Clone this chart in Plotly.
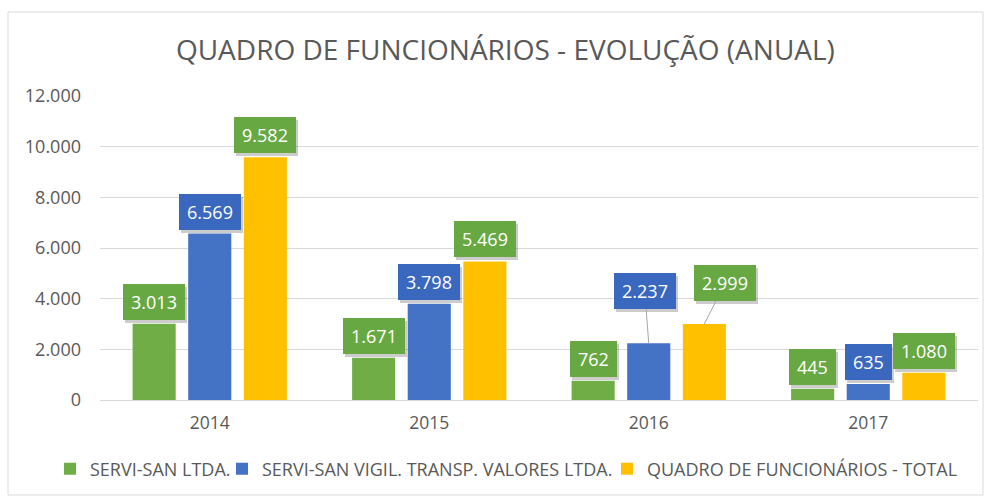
import plotly.graph_objects as go

# ---- data ----
years = ["2014", "2015", "2016", "2017"]
servi_san = [3013, 1671, 762, 445]
servi_vigil = [6569, 3798, 2237, 635]
total = [9582, 5469, 2999, 1080]
series_names = ["SERVI-SAN LTDA.", "SERVI-SAN VIGIL. TRANSP. VALORES LTDA.",
                "QUADRO DE FUNCIONÁRIOS - TOTAL"]
y_ticks = [0, 2000, 4000, 6000, 8000, 10000, 12000]
y_tick_labels = ["0", "2.000", "4.000", "6.000", "8.000", "10.000", "12.000"]

# ---- style ----
bar_colors = ["#70AD47", "#4472C4", "#FFC000"]
label_bg = ["#67A843", "#3B68BF", "#67A843"]
FONT = "Open Sans"
GREY = "#595959"
LABEL_FS = 18
BAR_SLOT = 0.253   # category fraction per bar slot
PLOT_L, PLOT_W, PLOT_B, PLOT_H = 100, 878, 400, 304
# label pixel offsets (dx, dy above bar top) per series per year; leader lines where moved
label_offsets = [
    [(0, 22), (0, 22), (0, 22), (0, 22)],
    [(0, 22), (0, 22), (-4, 52), (0, 22)],
    [(0, 22), (0, 22), (21, 41), (0, 22)],
]
leader = [[False] * 4, [False, False, True, False], [False, False, True, False]]
legend_text_x = [90, 262, 647]   # pixel x where each legend text starts
legend_keys = ["legend2", "legend3", "legend4"]

series = [servi_san, servi_vigil, total]
xpos = list(range(len(years)))

fig = go.Figure()
for s, vals in enumerate(series):
    fig.add_trace(go.Bar(
        x=xpos, y=vals, name=series_names[s], legend=legend_keys[s],
        marker=dict(color=bar_colors[s], line=dict(width=0)),
        hoverinfo="skip",
    ))

def fmt(v):
    return f"{v:,}".replace(",", ".")

def text_w(t):
    return sum(0.266 if c == "." else 0.572 for c in t) * LABEL_FS

shadows, labels = [], []
for s, vals in enumerate(series):
    for i, v in enumerate(vals):
        dx, dy = label_offsets[s][i]
        t = fmt(v)
        base = dict(
            x=i + (s - 1) * BAR_SLOT, y=v, xref="x", yref="y",
            text=t, showarrow=True, ax=dx, ay=-dy, width=text_w(t) + 4,
            arrowhead=0, arrowwidth=1, borderpad=6, borderwidth=0,
            font=dict(family=FONT, size=LABEL_FS, color="white"),
            xanchor="center", yanchor="middle", align="center",
        )
        sh = dict(base)
        sh.update(bgcolor="rgba(0,0,0,0.2)",
                  font=dict(family=FONT, size=LABEL_FS, color="rgba(0,0,0,0)"),
                  arrowcolor="rgba(0,0,0,0)", xshift=2, yshift=-3)
        shadows.append(sh)
        lb = dict(base)
        lb.update(bgcolor=label_bg[s],
                  arrowcolor="#A6A6A6" if leader[s][i] else "rgba(0,0,0,0)")
        labels.append(lb)

legends = {}
for s, key in enumerate(legend_keys):
    legends[key] = dict(
        orientation="h", xref="paper", yref="paper",
        x=(legend_text_x[s] - 40 - PLOT_L) / PLOT_W, xanchor="left",
        y=-(469 - PLOT_B) / PLOT_H, yanchor="middle",
        font=dict(family=FONT, size=18, color=GREY), itemwidth=30,
        bgcolor="rgba(0,0,0,0)",
    )

fig.update_layout(
    width=991, height=497,
    paper_bgcolor="white", plot_bgcolor="white",
    margin=dict(l=100, r=13, t=96, b=97, autoexpand=False),
    barmode="group", bargap=0.24, bargroupgap=0.225,
    title=dict(text="QUADRO DE FUNCIONÁRIOS - EVOLUÇÃO (ANUAL)",
               font=dict(family=FONT, size=28, color=GREY),
               x=0.51, xanchor="center", y=0.9, yanchor="middle"),
    xaxis=dict(tickmode="array", tickvals=xpos, ticktext=years,
               range=[-0.5, len(years) - 0.5], showgrid=False, zeroline=False,
               showline=False, ticks="", ticklabelstandoff=10,
               tickfont=dict(family=FONT, size=17.5, color=GREY)),
    yaxis=dict(tickmode="array", tickvals=y_ticks, ticktext=y_tick_labels,
               range=[0, 12000], showgrid=True, gridcolor="#D9D9D9", gridwidth=1,
               zeroline=True, zerolinecolor="#D9D9D9", zerolinewidth=1,
               showline=False, ticks="", ticklabelstandoff=18,
               tickfont=dict(family=FONT, size=18, color=GREY)),
    annotations=shadows + labels,
    shapes=[dict(type="rect", xref="paper", yref="paper",
                 x0=(8 - PLOT_L) / PLOT_W, x1=(983 - PLOT_L) / PLOT_W,
                 y0=-(495 - PLOT_B) / PLOT_H, y1=(PLOT_B - 12) / PLOT_H,
                 line=dict(color="#D9D9D9", width=1), fillcolor="rgba(0,0,0,0)",
                 layer="below")],
    **legends,
)

fig.write_html("out.html", config={"displayModeBar": False},
               post_script="document.body.style.margin='0';")
